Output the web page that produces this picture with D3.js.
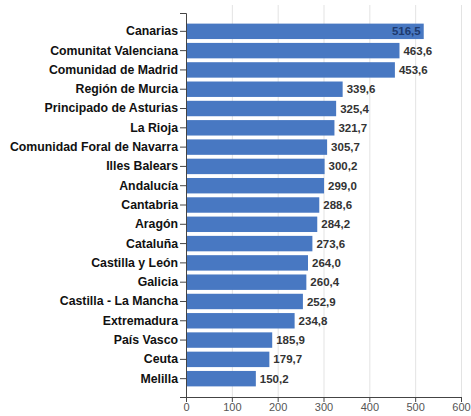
<!DOCTYPE html>
<html>
<head>
<meta charset="utf-8">
<script src="https://cdn.jsdelivr.net/npm/d3@7"></script>
<style>
  body { margin: 0; background: #fff; }
  svg text { font-family: "Liberation Sans", Arial, sans-serif; }
  .grid line { stroke: #e3e3e3; }
  .grid path { display: none; }
</style>
</head>
<body>
<svg id="chart" width="471" height="416"></svg>
<script>
const regions = [
  "Canarias", "Comunitat Valenciana", "Comunidad de Madrid", "Región de Murcia",
  "Principado de Asturias", "La Rioja", "Comunidad Foral de Navarra", "Illes Balears",
  "Andalucía", "Cantabria", "Aragón", "Cataluña", "Castilla y León", "Galicia",
  "Castilla - La Mancha", "Extremadura", "País Vasco", "Ceuta", "Melilla"
];
const values = [
  516.5, 463.6, 453.6, 339.6, 325.4, 321.7, 305.7, 300.2, 299.0, 288.6,
  284.2, 273.6, 264.0, 260.4, 252.9, 234.8, 185.9, 179.7, 150.2
];
const xTicks = [0, 100, 200, 300, 400, 500, 600];

const data = regions.map((r, i) => ({ region: r, value: values[i] }));

const margin = { top: 13, right: 10, bottom: 19, left: 186 };
const width = 471, height = 416;
const svg = d3.select("#chart");
const fmt = v => d3.format(".1f")(v).replace(".", ",");

const x = d3.scaleLinear().domain([0, 600]).range([margin.left, width - margin.right]);
const y = d3.scaleBand()
  .domain(regions)
  .range([margin.top, height - margin.bottom])
  .paddingInner(0.2)
  .paddingOuter(0.55);

// grid
svg.append("g")
  .attr("class", "grid")
  .attr("transform", `translate(0,${height - margin.bottom})`)
  .call(d3.axisBottom(x).tickValues(xTicks.slice(1)).tickSize(-(height - margin.bottom - 5)).tickFormat(""));

// bars
svg.append("g")
  .selectAll("rect")
  .data(data)
  .join("rect")
  .attr("x", x(0) + 1)
  .attr("y", d => y(d.region))
  .attr("width", d => x(d.value) - x(0))
  .attr("height", y.bandwidth())
  .attr("fill", "#4878c2");

// value labels
svg.append("g")
  .selectAll("text")
  .data(data)
  .join("text")
  .attr("x", (d, i) => i === 0 ? x(d.value) - 2 : x(d.value) + 5)
  .attr("y", d => y(d.region) + y.bandwidth() / 2)
  .attr("dy", "0.35em")
  .attr("text-anchor", (d, i) => i === 0 ? "end" : "start")
  .attr("font-size", 11.5)
  .attr("font-weight", "bold")
  .attr("fill", (d, i) => i === 0 ? "#1d3a6e" : "#333")
  .text(d => fmt(d.value));

// y axis
const yAxis = svg.append("g")
  .attr("transform", `translate(${margin.left},0)`)
  .call(d3.axisLeft(y).tickSize(6).tickSizeOuter(6));
yAxis.selectAll("text")
  .attr("font-size", 12.3)
  .attr("font-weight", "bold")
  .attr("fill", "#111")
  .attr("dx", "1");
yAxis.select(".domain").attr("stroke", "#444");
yAxis.selectAll(".tick line").attr("stroke", "#444");

// x axis
const xAxis = svg.append("g")
  .attr("transform", `translate(0,${height - margin.bottom})`)
  .call(d3.axisBottom(x).tickValues(xTicks).tickSize(5).tickSizeOuter(5));
xAxis.selectAll("text")
  .attr("font-size", 11)
  .attr("fill", "#555")
  .attr("dy", "0.55em");
xAxis.select(".domain").attr("stroke", "#444");
xAxis.selectAll(".tick line").attr("stroke", "#444");
</script>
</body>
</html>
